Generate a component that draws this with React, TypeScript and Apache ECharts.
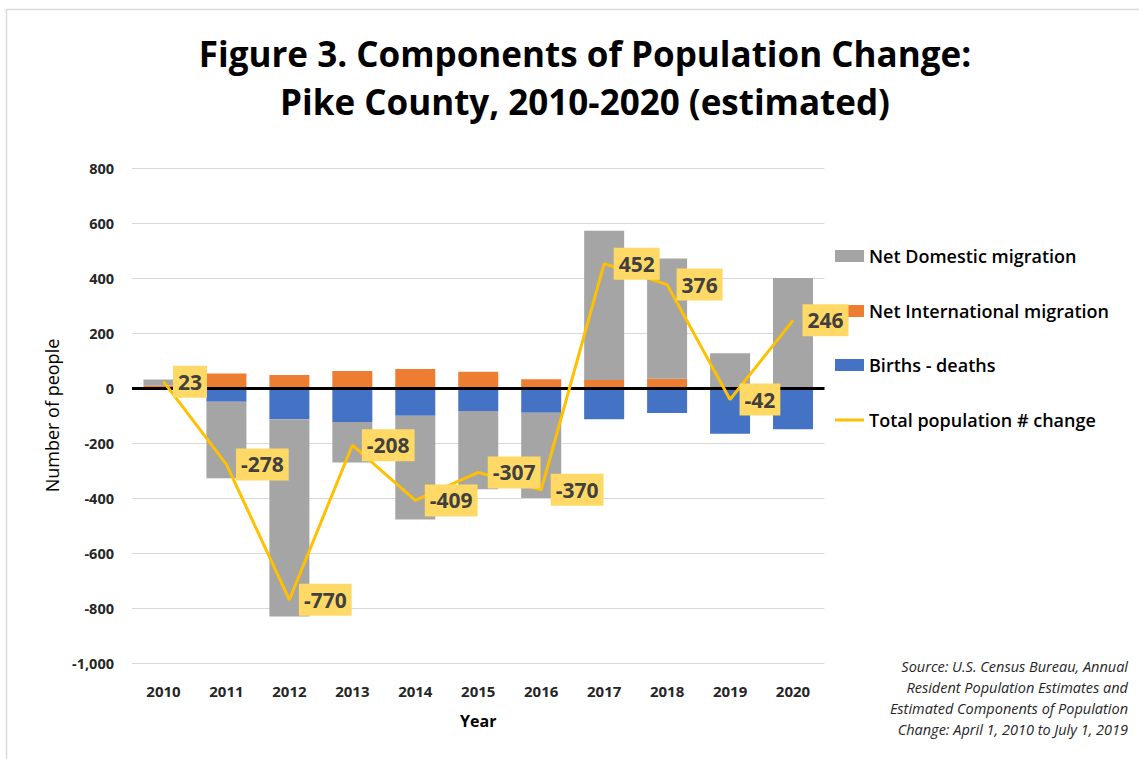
import React, { useEffect, useRef } from "react";
import * as echarts from "echarts";

const years = ["2010", "2011", "2012", "2013", "2014", "2015", "2016", "2017", "2018", "2019", "2020"];
const birthsDeaths = [3, -50, -114, -124, -101, -84, -90, -114, -91, -166, -150];
const netInternational = [6, 53, 47, 62, 69, 59, 32, 29, 34, 0, 3];
const netDomestic = [22, -278, -717, -147, -377, -284, -310, 543, 437, 126, 397];
const totalChange = [23, -278, -770, -208, -409, -307, -370, 452, 376, -42, 246];

const seriesNames = [
  "Net Domestic migration",
  "Net International migration",
  "Births - deaths",
  "Total population # change",
];

const FONT = "'Open Sans', 'Noto Sans', sans-serif";

export default function App() {
  const ref = useRef<HTMLDivElement>(null);
  useEffect(() => {
    if (!ref.current) return;
    const chart = echarts.init(ref.current, null, { renderer: "svg" });
    const legendTops = [242, 297, 351, 406];
    chart.setOption({
      animation: false,
      backgroundColor: "#ffffff",
      textStyle: { fontFamily: FONT },
      title: {
        text: "Figure 3. Components of Population Change:\nPike County, 2010-2020 (estimated)",
        left: 580,
        top: 24,
        textAlign: "center",
        textStyle: { fontFamily: FONT, fontSize: 35, fontWeight: "bold", color: "#000000", lineHeight: 48 },
      },
      legend: seriesNames.map((n, i) => ({
        data: [n],
        orient: "vertical",
        left: 830,
        top: legendTops[i],
        itemWidth: 29,
        itemHeight: i === 3 ? 3 : 12,
        itemGap: 4,
        icon: "rect",
        selectedMode: false,
        textStyle: { fontFamily: FONT, fontSize: 18, fontWeight: 600, color: "#000000" },
      })),
      grid: { left: 132, right: 314.5, top: 168, bottom: 96, containLabel: false },
      xAxis: {
        type: "category",
        data: years,
        axisLine: { show: false },
        axisTick: { show: false },
        axisLabel: { fontFamily: FONT, fontSize: 15, fontWeight: "bold", color: "#262626", margin: 20 },
        name: "Year",
        nameLocation: "middle",
        nameGap: 50,
        nameTextStyle: { fontFamily: FONT, fontSize: 16, fontWeight: "bold", color: "#000000" },
      },
      yAxis: {
        type: "value",
        min: -1000,
        max: 800,
        interval: 200,
        axisLine: { show: false },
        axisTick: { show: false },
        splitLine: { lineStyle: { color: "#d9d9d9", width: 1 } },
        axisLabel: {
          fontFamily: FONT,
          fontSize: 14.5,
          fontWeight: "bold",
          color: "#262626",
          margin: 18,
          formatter: (v: number) => v.toLocaleString("en-US"),
        },
        name: "Number of people",
        nameLocation: "middle",
        nameGap: 70,
        nameRotate: 90,
        nameTextStyle: { fontFamily: FONT, fontSize: 18, fontWeight: 500, color: "#000000" },
      },
      graphic: [
        {
          type: "rect",
          shape: { x: 6.5, y: 9.5, width: 1200, height: 800 },
          style: { fill: "none", stroke: "#d9d9d9", lineWidth: 1.5 },
          silent: true,
          z: -10,
        },
        {
          type: "text",
          right: 11,
          top: 656,
          style: {
            text: "Source: U.S. Census Bureau, Annual\nResident Population Estimates and\nEstimated Components of Population\nChange: April 1, 2010 to July 1, 2019",
            font: "italic 14.5px " + FONT,
            fill: "#262626",
            textAlign: "right",
            lineHeight: 21,
          },
        },
      ],
      series: [
        {
          name: "Births - deaths",
          type: "bar",
          stack: "total",
          data: birthsDeaths,
          barWidth: 40,
          itemStyle: { color: "#4472C4" },
        },
        {
          name: "Net International migration",
          type: "bar",
          stack: "total",
          data: netInternational,
          itemStyle: { color: "#ED7D31" },
        },
        {
          name: "Net Domestic migration",
          type: "bar",
          stack: "total",
          data: netDomestic,
          itemStyle: { color: "#A5A5A5" },
          markLine: {
            silent: true,
            symbol: "none",
            label: { show: false },
            lineStyle: { color: "#000000", width: 3, type: "solid" },
            data: [{ yAxis: 0 }],
          },
        },
        {
          name: "Total population # change",
          type: "line",
          data: totalChange,
          symbol: "circle",
          symbolSize: 1,
          lineStyle: { color: "#FFC000", width: 3 },
          itemStyle: { color: "#FFC000" },
          z: 5,
          label: {
            show: true,
            position: "right",
            distance: 9,
            fontFamily: FONT,
            fontSize: 21,
            fontWeight: "bold",
            color: "#404040",
            backgroundColor: "#FFD966",
            padding: [6, 5, 5, 5],
          },
        },
      ],
    });
    return () => chart.dispose();
  }, []);
  return <div ref={ref} style={{ position: "fixed", left: 0, top: 0, width: 1139, height: 759 }} />;
}
